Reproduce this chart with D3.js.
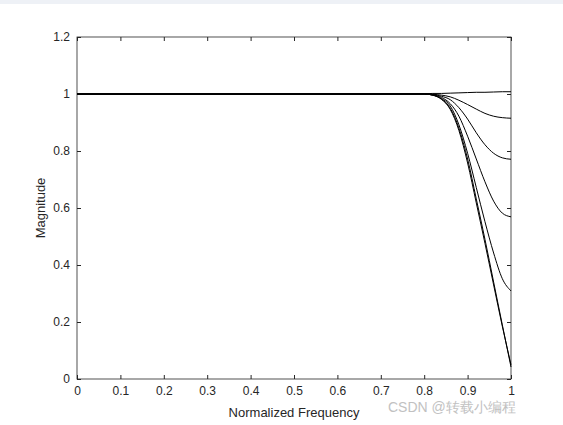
<!DOCTYPE html>
<html><head><meta charset="utf-8">
<script src="https://cdn.jsdelivr.net/npm/d3@7"></script>
<style>body{margin:0;background:#fff}svg{display:block}text{font-family:"Liberation Sans",Arial,sans-serif}</style>
</head><body>
<svg id="c" width="563" height="425"></svg>
<script>
var freq = [0, 0.7, 0.8, 0.82, 0.84, 0.86, 0.88, 0.9, 0.92, 0.94, 0.96, 0.98, 1];
var mag1 = [1, 1, 1.001, 1.002, 1.002, 1.003, 1.004, 1.005, 1.006, 1.006, 1.007, 1.008, 1.008];
var mag2 = [1, 1, 1, 0.999, 0.996, 0.99, 0.978, 0.963, 0.947, 0.932, 0.922, 0.917, 0.915];
var mag3 = [1, 1, 1, 0.998, 0.992, 0.98, 0.952, 0.912, 0.864, 0.822, 0.792, 0.776, 0.771];
var mag4 = [1, 1, 1, 0.997, 0.988, 0.966, 0.922, 0.852, 0.772, 0.692, 0.624, 0.582, 0.569];
var mag5 = [1, 1, 1, 0.996, 0.984, 0.958, 0.892, 0.792, 0.672, 0.552, 0.442, 0.352, 0.309];
var mag6 = [1, 1, 1, 0.996, 0.982, 0.95, 0.88, 0.772, 0.632, 0.49, 0.34, 0.19, 0.042];
var mag7 = [1, 1, 1, 0.996, 0.981, 0.946, 0.872, 0.758, 0.618, 0.476, 0.33, 0.185, 0.05];
var series = [mag1, mag2, mag3, mag4, mag5, mag6, mag7];
var xTicks = [0, 0.1, 0.2, 0.3, 0.4, 0.5, 0.6, 0.7, 0.8, 0.9, 1];
var yTicks = [0, 0.2, 0.4, 0.6, 0.8, 1, 1.2];

var svg = d3.select("#c");
var L = 77, R = 511, T = 37, B = 379;
svg.append("rect").attr("width", 563).attr("height", 4).attr("fill", "#eef1f6");
var x = d3.scaleLinear().domain([0, 1]).range([L, R]);
var y = d3.scaleLinear().domain([0, 1.2]).range([B, T]);

svg.append("rect").attr("x", L).attr("y", T).attr("width", R - L).attr("height", B - T)
  .attr("fill", "#fff").attr("stroke", "#262626").attr("stroke-width", 0.8);

var fmt = function(d) { return d3.format("~g")(d); };
var gx = svg.append("g").attr("transform", "translate(0," + B + ")")
  .call(d3.axisBottom(x).tickValues(xTicks).tickFormat(fmt).tickSizeInner(-4).tickSizeOuter(0).tickPadding(7));
var gy = svg.append("g").attr("transform", "translate(" + L + ",0)")
  .call(d3.axisLeft(y).tickValues(yTicks).tickFormat(fmt).tickSizeInner(-4).tickSizeOuter(0).tickPadding(7));
var gxt = svg.append("g").attr("transform", "translate(0," + T + ")")
  .call(d3.axisTop(x).tickValues(xTicks).tickFormat("").tickSizeInner(-4).tickSizeOuter(0));
var gyr = svg.append("g").attr("transform", "translate(" + R + ",0)")
  .call(d3.axisRight(y).tickValues(yTicks).tickFormat("").tickSizeInner(-4).tickSizeOuter(0));
[gx, gy, gxt, gyr].forEach(function(g) {
  g.select(".domain").remove();
  g.selectAll("line").attr("stroke", "#262626");
  g.selectAll("text").attr("font-size", 12).attr("fill", "#262626");
});

var line = d3.line().x(function(d, i) { return x(freq[i]); }).y(function(d) { return y(d); })
  .curve(d3.curveMonotoneX);
svg.selectAll(".s").data(series).enter().append("path")
  .attr("d", line).attr("fill", "none").attr("stroke", "#000").attr("stroke-width", 1);

svg.append("text").attr("x", (L + R) / 2).attr("y", 417).attr("text-anchor", "middle")
  .attr("font-size", 13).attr("fill", "#262626").text("Normalized Frequency");
svg.append("text").attr("transform", "translate(45," + ((T + B) / 2) + ") rotate(-90)")
  .attr("text-anchor", "middle").attr("font-size", 13).attr("fill", "#262626").text("Magnitude");
svg.append("text").attr("x", 388).attr("y", 412).attr("font-size", 14)
  .attr("fill", "#bbb").attr("opacity", 0.9).text("CSDN @转载小编程");
</script>
</body></html>
